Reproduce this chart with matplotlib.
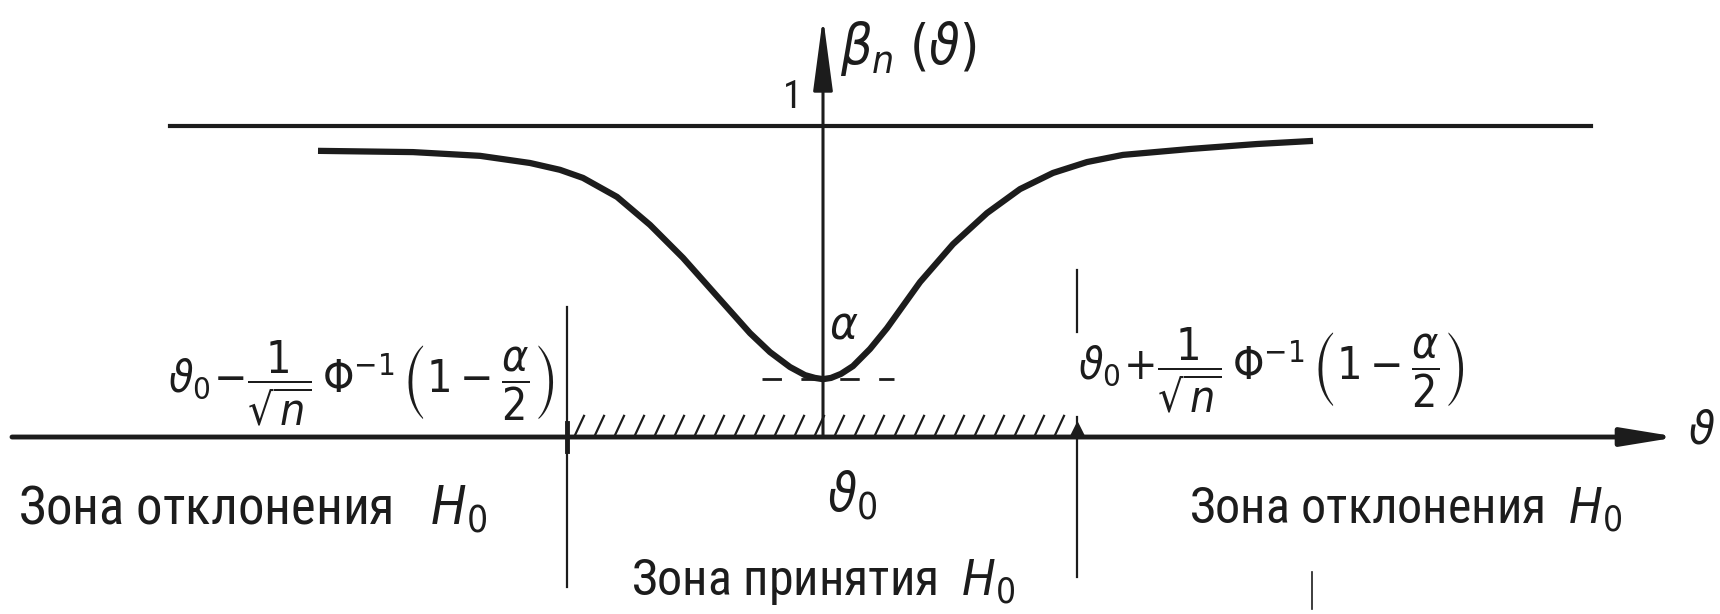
import numpy as np
import matplotlib
matplotlib.use('Agg')
import matplotlib.pyplot as plt
from matplotlib import font_manager

# точки кривой мощности beta_n(theta) (theta0 = 0)
theta = [-5.05, -4.10, -3.43, -2.93, -2.63, -2.40, -2.06, -1.73, -1.40, -1.06,
         -0.73, -0.53, -0.33, -0.18, -0.08, 0.00, 0.08, 0.18, 0.30, 0.47,
         0.64, 0.97, 1.30, 1.64, 1.97, 2.30, 2.64, 3.00, 3.67, 4.34, 4.90]
beta = [0.920, 0.916, 0.904, 0.881, 0.859, 0.833, 0.772, 0.682, 0.576, 0.453,
        0.334, 0.273, 0.225, 0.199, 0.190, 0.186, 0.190, 0.203, 0.228, 0.283,
        0.350, 0.498, 0.620, 0.720, 0.797, 0.849, 0.884, 0.907, 0.926, 0.942, 0.952]

alpha = 0.186          # уровень значимости (минимум кривой)
crit_left = -2.56      # theta0 - Phi^-1(1-a/2)/sqrt(n)
crit_right = 2.54      # theta0 + Phi^-1(1-a/2)/sqrt(n)

ink = '#1c1c1c'

# узкий шрифт, если он есть
names = set(f.name for f in font_manager.fontManager.ttflist)
fam = ['DejaVu Sans']
for n in ['Liberation Sans Narrow', 'Roboto Condensed', 'Open Sans Condensed', 'Noto Sans Condensed']:
    if n in names:
        fam = [n, 'DejaVu Sans']
        break
plt.rcParams['font.family'] = fam
plt.rcParams['font.stretch'] = 'condensed'
plt.rcParams['mathtext.fontset'] = 'dejavusans'

fig = plt.figure(figsize=(17.2, 6.14), dpi=100)
ax = fig.add_axes([0, 0, 1, 1])
ax.set_xlim(-8.23, 8.97)
ax.set_ylim(-0.569, 1.405)
ax.axis('off')

# оси
ax.annotate('', xy=(8.55, 0), xytext=(-8.11, 0),
            arrowprops=dict(arrowstyle='-|>,head_length=1.1,head_width=0.18',
                            lw=3.5, color=ink, mutation_scale=30, shrinkA=0, shrinkB=0))
ax.annotate('', xy=(0, 1.35), xytext=(0, 0),
            arrowprops=dict(arrowstyle='-|>,head_length=1.5,head_width=0.2',
                            lw=2.2, color=ink, mutation_scale=30, shrinkA=0, shrinkB=0))
ax.plot([-6.53, 7.68], [1, 1], color=ink, lw=3)

# кривая
ax.plot(theta, beta, color=ink, lw=4.5, solid_capstyle='butt', solid_joinstyle='round')
ax.plot([-0.61, 0.71], [alpha, alpha], color=ink, lw=2, dashes=(7, 7))

# штриховка зоны принятия
for x in np.arange(crit_left + 0.08, crit_right - 0.08, 0.2):
    ax.plot([x, x + 0.09], [0.006, 0.068], color=ink, lw=1.6)

# границы зон
ax.plot([crit_left, crit_left], [0.418, -0.482], color=ink, lw=1.6)
ax.plot([crit_left, crit_left], [-0.045, 0.045], color=ink, lw=3.5)
ax.plot([crit_right, crit_right], [0.537, 0.338], color=ink, lw=1.6)
ax.plot([crit_right, crit_right], [0.064, -0.45], color=ink, lw=1.6)
ax.plot([crit_right], [0.025], marker='^', ms=10, color=ink)
ax.plot([4.89, 4.89], [-0.434, -0.553], color=ink, lw=1.2)

# подписи
ax.text(-0.3, 1.093, '1', fontsize=28, color=ink, ha='center', va='center')
ax.text(0.17, 1.25, r'$\beta_n\;(\vartheta)$', fontsize=40, color=ink, ha='left', va='center')
ax.text(8.65, 0.02, r'$\vartheta$', fontsize=34, color=ink, ha='left', va='center')
ax.text(0.06, 0.36, r'$\alpha$', fontsize=34, color=ink, ha='left', va='center')
ax.text(0.04, -0.19, r'$\vartheta_0$', fontsize=38, color=ink, ha='left', va='center')

ax.text(-2.69, 0.174,
        r'$\vartheta_0\!-\!\dfrac{1}{\sqrt{n}}\,\Phi^{-1}\,\left(1 - \dfrac{\alpha}{2}\right)$',
        fontsize=32, color=ink, ha='right', va='center')
ax.text(2.55, 0.214,
        r'$\vartheta_0\!+\!\dfrac{1}{\sqrt{n}}\,\Phi^{-1}\,\left(1 - \dfrac{\alpha}{2}\right)$',
        fontsize=32, color=ink, ha='left', va='center')

ax.text(-8.05, -0.235, r'Зона отклонения   $H_0$', fontsize=38, color=ink,
        ha='left', va='center')
ax.text(3.66, -0.235, r'Зона отклонения  $H_0$', fontsize=36, color=ink,
        ha='left', va='center')
ax.text(-1.92, -0.465, r'Зона принятия  $H_0$', fontsize=36, color=ink,
        ha='left', va='center')

fig.savefig('out.png', dpi=100, facecolor='white')
